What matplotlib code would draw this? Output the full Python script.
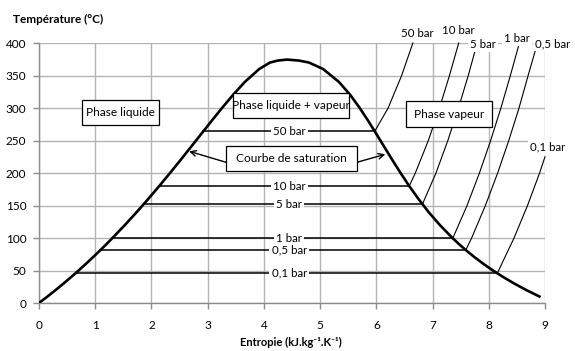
import matplotlib
matplotlib.use("Agg")
import matplotlib.pyplot as plt
from matplotlib.patches import Rectangle

plt.rcParams['font.family'] = ['Lato', 'DejaVu Sans']

# Saturation curve (entropy kJ/kg/K, temperature °C)
sat_s = [0.0, 0.151, 0.2965, 0.4368, 0.5724, 0.7038, 0.8313, 0.9551, 1.0756, 1.1929,
         1.3072, 1.5279, 1.7392, 1.9426, 2.1392, 2.3305, 2.5177, 2.7020, 2.8849,
         3.0685, 3.2552, 3.4494, 3.6601, 3.9167, 4.1112, 4.25, 4.41, 4.62, 4.80,
         5.053, 5.336, 5.537, 5.705, 5.857, 6.001, 6.143, 6.285, 6.431, 6.585,
         6.750, 6.929, 7.129, 7.354, 7.478, 7.611, 7.754, 7.908, 8.075, 8.256,
         8.452, 8.666, 8.900]
sat_t = [0, 10, 20, 30, 40, 50, 60, 70, 80, 90,
         100, 120, 140, 160, 180, 200, 220, 240, 260,
         280, 300, 320, 340, 360, 370, 373, 374.5, 373, 370,
         360, 340, 320, 300, 280, 260, 240, 220, 200, 180,
         160, 140, 120, 100, 90, 80, 70, 60, 50, 40,
         30, 20, 10]

# Isobars: saturation temperature, s_liquid, s_vapour
iso_names = ["50 bar", "10 bar", "5 bar", "1 bar", "0,5 bar", "0,1 bar"]
iso_tsat = [264, 180, 152, 99.6, 81.3, 45.8]
iso_sf = [2.92, 2.14, 1.86, 1.30, 1.09, 0.65]
iso_sg = [5.97, 6.585, 6.82, 7.36, 7.59, 8.15]

# Superheated branches (s, T)
sh_50_s = [5.97, 6.21, 6.45, 6.65]
sh_50_t = [264, 300, 350, 400]
sh_10_s = [6.585, 6.694, 6.925, 7.123, 7.301, 7.465]
sh_10_t = [180, 200, 250, 300, 350, 400]
sh_5_s = [6.82, 7.061, 7.272, 7.461, 7.635, 7.794]
sh_5_t = [152, 200, 250, 300, 350, 400]
sh_1_s = [7.36, 7.614, 7.834, 8.033, 8.216, 8.384, 8.544]
sh_1_t = [99.6, 150, 200, 250, 300, 350, 400]
sh_05_s = [7.59, 7.695, 7.940, 8.158, 8.356, 8.538, 8.70, 8.866]
sh_05_t = [81.3, 100, 150, 200, 250, 300, 350, 400]
sh_01_s = [8.15, 8.175, 8.449, 8.689, 8.904, 9.0]
sh_01_t = [45.8, 50, 100, 150, 200, 225]

x_ticks = list(range(0, 10))
y_ticks = list(range(0, 401, 50))

fig = plt.figure(figsize=(5.75, 3.51), dpi=100)
ax = fig.add_axes([39/575, 1-303/351, (545-39)/575, (303-43)/351])
ax.set_xlim(0, 9)
ax.set_ylim(0, 400)
ax.set_xticks(x_ticks)
ax.set_yticks(y_ticks)
grid_c = '#b4b4b4'
ax.grid(True, color=grid_c, lw=1.0, zorder=0)
ax.set_axisbelow(True)
for sp in ['top', 'right']:
    ax.spines[sp].set_visible(False)
for sp in ['left', 'bottom']:
    ax.spines[sp].set_color('#8c8c8c')
    ax.spines[sp].set_linewidth(1.0)
ax.tick_params(axis='both', colors='#8c8c8c', labelcolor='black', length=4,
               width=1.0, labelsize=8.5)
ax.tick_params(axis='x', pad=8)
ax.tick_params(axis='y', pad=5)

# saturation curve
ax.plot(sat_s, sat_t, color='black', lw=1.9, zorder=4, solid_joinstyle='round')

# horizontal isobars and their labels
for name, t, sf, sg in zip(iso_names, iso_tsat, iso_sf, iso_sg):
    ax.plot([sf, sg], [t, t], color='black', lw=1.1, zorder=3)
    ax.text(4.45, t, name, ha='center', va='center', fontsize=8.3, zorder=5,
            bbox=dict(boxstyle='square,pad=0.2', fc='white', ec='none'))

# superheated branches
branches = [(sh_50_s, sh_50_t), (sh_10_s, sh_10_t), (sh_5_s, sh_5_t),
            (sh_1_s, sh_1_t), (sh_05_s, sh_05_t), (sh_01_s, sh_01_t)]
for bs, bt in branches:
    ax.plot(bs, bt, color='black', lw=0.8, zorder=3, clip_on=False)

# labels at the ends of branches
top_lab_pos = [(6.73, 415), (7.46, 420), (7.90, 398), (8.50, 407), (9.13, 399), (9.04, 240)]
for name, (xs, ys) in zip(iso_names, top_lab_pos):
    ax.text(xs, ys, name, ha='center', va='center', fontsize=8.3, zorder=6,
            clip_on=False,
            bbox=dict(boxstyle='square,pad=0.15', fc='white', ec='none'))

# region text boxes: (label, x0, x1, y0, y1) in data units
boxes = [("Phase liquide", 0.765, 2.134, 273.4, 311.8),
         ("Phase liquide + vapeur", 3.451, 5.514, 284.2, 322.6),
         ("Courbe de saturation", 3.326, 5.656, 202.6, 241.1),
         ("Phase vapeur", 6.528, 8.058, 270.3, 310.3)]
for lab, x0, x1, y0, y1 in boxes:
    ax.add_patch(Rectangle((x0, y0), x1 - x0, y1 - y0, fc='white', ec='black',
                           lw=0.9, zorder=7))
    ax.text((x0 + x1) / 2, (y0 + y1) / 2, lab, ha='center', va='center',
            fontsize=8.6, zorder=8)

ax.annotate("", xy=(2.67, 233.4), xytext=(3.326, 216.5),
            arrowprops=dict(arrowstyle='->', color='black', lw=1.0,
                            shrinkA=0, shrinkB=0), zorder=6)
ax.annotate("", xy=(6.16, 228.8), xytext=(5.656, 216.5),
            arrowprops=dict(arrowstyle='->', color='black', lw=1.0,
                            shrinkA=0, shrinkB=0), zorder=6)

fig.text(13/575, 1-19/351, "Température (°C)", ha='left', va='center',
         fontsize=8.5, fontweight='bold')
fig.text(291/575, 1-342/351, "Entropie (kJ.kg⁻¹.K⁻¹)",
         ha='center', va='center', fontsize=8, fontweight='bold')

fig.savefig("out.png", dpi=100)
